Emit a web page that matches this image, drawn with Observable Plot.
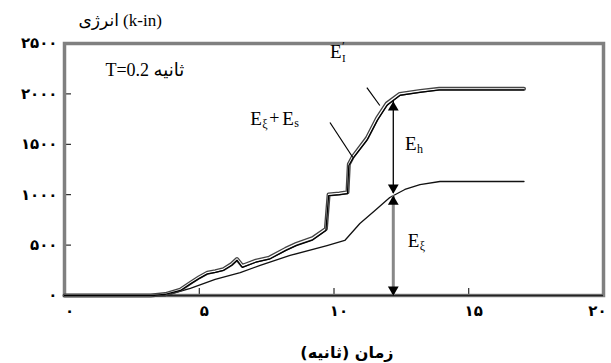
<!DOCTYPE html>
<html><head><meta charset="utf-8">
<script src="https://cdn.jsdelivr.net/npm/d3@7"></script>
<script src="https://cdn.jsdelivr.net/npm/@observablehq/plot@0.6"></script>
<style>body{margin:0;background:#fff}</style>
</head><body><div id="chart"></div>
<script>
// upper curves: time (s)
const timeUpper = [0, 3.2, 3.74, 4.3, 4.7, 5.0, 5.3, 5.6, 5.9, 6.2, 6.4, 6.6, 7.1, 7.6, 8.2, 8.6, 9.2, 9.7, 9.8, 10.2, 10.5, 10.55, 10.7, 11.22, 11.6, 11.96, 12.44, 13.2, 13.9, 17.05];
// E_ξ + E_s (k-in)
const energyDampStrain = [0, 0, 10, 50, 120, 170, 215, 230, 250, 300, 350, 280, 330, 360, 445, 495, 550, 645, 990, 1000, 1010, 1290, 1360, 1540, 1735, 1885, 1985, 2015, 2040, 2040];
// E'_I input energy (k-in)
const energyInput = [0, 0, 14, 58, 130, 182, 226, 242, 262, 312, 362, 295, 345, 376, 462, 512, 568, 662, 1002, 1012, 1024, 1302, 1378, 1562, 1760, 1905, 2000, 2030, 2050, 2050];
// lower curve E_ξ
const timeLower = [0, 3.74, 4.67, 5.59, 6.52, 7.26, 8.37, 9.74, 10.4, 10.96, 11.52, 12.07, 12.63, 13.19, 13.93, 17.05];
const energyDamp = [0, 0, 70, 160, 228, 298, 397, 496, 546, 714, 843, 972, 1052, 1101, 1131, 1131];

const yTicks = [0, 500, 1000, 1500, 2000, 2500];
const yTickLabels = ["۰", "۵۰۰", "۱۰۰۰", "۱۵۰۰", "۲۰۰۰", "۲۵۰۰"];
const xTicks = [0, 5, 10, 15, 20];
const xTickLabels = ["۰", "۵", "۱۰", "۱۵", "۲۰"];

const arrowTime = 12.2;
const ehRange = [1012, 1925];
const exiRange = [0, 990];

const upper = timeUpper.map((t, i) => ({t, es: energyDampStrain[i], ei: energyInput[i]}));
const lower = timeLower.map((t, i) => ({t, e: energyDamp[i]}));

const serif = "'Liberation Serif', 'Times New Roman', 'DejaVu Sans', serif";
const fa = "'DejaVu Sans', sans-serif";

function txt(s, x, y, o = {}) {
  return Plot.text([s], {x, y, text: d => d, fill: "#000", fontFamily: serif, fontSize: 19, textAnchor: "start", ...o});
}
const xLab = d => xTickLabels[xTicks.indexOf(d)];

const chart = Plot.plot({
  width: 611, height: 363,
  marginLeft: 64, marginRight: 8, marginTop: 43, marginBottom: 68,
  x: {domain: [0, 20]},
  y: {domain: [0, 2500]},
  style: {fontFamily: fa, background: "#fff", color: "#000"},
  marks: [
    Plot.axisY({ticks: yTicks, tickSize: 0, tickPadding: 7, tickFormat: d => yTickLabels[yTicks.indexOf(d)], fontSize: 15, fontWeight: "bold", label: null}),
    Plot.axisY({ticks: yTicks.slice(1, -1), tickSize: 7, dx: 7, tickFormat: () => "", label: null}),
    Plot.axisX({ticks: xTicks.slice(0, -1), tickSize: 0, tickPadding: 10, dx: 5, tickFormat: xLab, fontSize: 15, fontWeight: "bold", label: null}),
    Plot.axisX({ticks: xTicks.slice(-1), tickSize: 0, tickPadding: 10, dx: -6, tickFormat: xLab, fontSize: 15, fontWeight: "bold", label: null}),
    Plot.axisX({ticks: [5, 10, 15], tickSize: 7, dy: -7, tickFormat: () => "", label: null}),
    Plot.frame({stroke: "#808080", strokeWidth: 3.5}),
    Plot.ruleY([0], {stroke: "#222", strokeWidth: 1.5}),
    Plot.line(lower, {x: "t", y: "e", stroke: "#111", strokeWidth: 1.3}),
    Plot.line(upper, {x: "t", y: "ei", stroke: "#444", strokeWidth: 4}),
    Plot.line(upper, {x: "t", y: "ei", stroke: "#fff", strokeWidth: 1.4}),
    Plot.line(upper, {x: "t", y: "es", stroke: "#000", strokeWidth: 1.3}),
    // vertical arrows
    Plot.ruleX([arrowTime], {y1: exiRange[0], y2: exiRange[1], stroke: "#888", strokeWidth: 3}),
    Plot.ruleX([arrowTime], {y1: ehRange[0], y2: ehRange[1], stroke: "#000", strokeWidth: 1.3}),
    Plot.dot([ehRange[1], exiRange[1]], {x: arrowTime, y: d => d, symbol: "triangle", r: 4, fill: "#000", dy: 6}),
    Plot.dot([ehRange[0], exiRange[0]], {x: arrowTime, y: d => d, symbol: "triangle", r: 4, fill: "#000", rotate: 180, dy: -6}),
    // leader lines
    Plot.link([0], {x1: 11.22, y1: 2063, x2: 11.7, y2: 1885, stroke: "#000", strokeWidth: 1.2}),
    Plot.link([0], {x1: 9.85, y1: 1716, x2: 10.7, y2: 1369, stroke: "#000", strokeWidth: 1.2}),
    // curve labels
    txt("E", 9.85, 2421),
    txt("′", 9.85, 2421, {dx: 12, dy: -6, fontSize: 13}),
    txt("I", 9.85, 2421, {dx: 12, dy: 7, fontSize: 11}),
    txt("E", 6.89, 1756),
    txt("ξ", 6.89, 1756, {dx: 12, dy: 6, fontSize: 12}),
    txt("+", 6.89, 1756, {dx: 19, fontSize: 18}),
    txt("E", 6.89, 1756, {dx: 32}),
    txt("s", 6.89, 1756, {dx: 44, dy: 5, fontSize: 12}),
    txt("E", 12.63, 1508),
    txt("h", 12.63, 1508, {dx: 12, dy: 6, fontSize: 12}),
    txt("E", 12.74, 546),
    txt("ξ", 12.74, 546, {dx: 12, dy: 6, fontSize: 12}),
    // period annotation
    txt("T=0.2 ثانیه", 1.52, 2232, {fontSize: 18}),
    // axis titles
    txt("انرژی (k-in)", 0.52, 2728, {fontSize: 17}),
    txt("زمان (ثانیه)", 10.48, -565, {fontFamily: fa, fontSize: 16, fontWeight: "bold", textAnchor: "middle"})
  ]
});
document.getElementById("chart").appendChild(chart);
</script>
</body></html>
